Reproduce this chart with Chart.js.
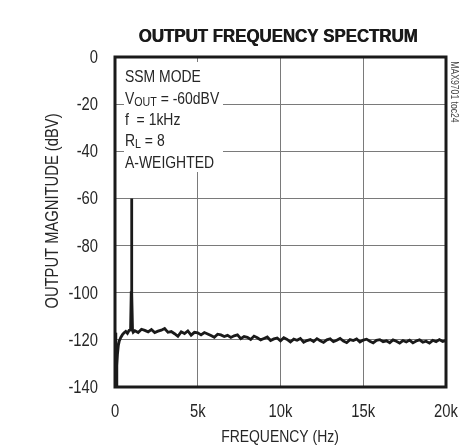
<!DOCTYPE html>
<html>
<head>
<meta charset="utf-8">
<script src="https://cdn.jsdelivr.net/npm/chart.js@4"></script>
<style>
  html, body { margin: 0; padding: 0; background: #fff; }
  canvas { display: block; }
</style>
</head>
<body>
<canvas id="spectrumChart" width="461" height="448"></canvas>
<script>
// Spectrum trace: frequency (Hz) and output level (dBV)
const freqHz = [
    0, 50, 80, 110, 150, 200, 260, 350, 450, 550, 650, 750, 850, 940, 980, 1000, 1020, 1060, 1100,
    1200, 1400, 1600, 1800, 2000, 2200, 2400, 2600, 2800, 3000,
    3200, 3400, 3600, 3800, 4000, 4200, 4400, 4600, 4800, 5000,
    5200, 5400, 5600, 5800, 6000, 6200, 6400, 6600, 6800, 7000,
    7200, 7400, 7600, 7800, 8000, 8200, 8400, 8600, 8800, 9000,
    9200, 9400, 9600, 9800, 10000, 10200, 10400, 10600, 10800, 11000,
    11200, 11400, 11600, 11800, 12000, 12200, 12400, 12600, 12800, 13000,
    13200, 13400, 13600, 13800, 14000, 14200, 14400, 14600, 14800, 15000,
    15200, 15400, 15600, 15800, 16000, 16200, 16400, 16600, 16800, 17000,
    17200, 17400, 17600, 17800, 18000, 18200, 18400, 18600, 18800, 19000,
    19200, 19400, 19600, 19800, 20000
];
const levelDbv = [
    -117.0, -119.0, -139.0, -131.0, -126.0, -122.5, -120.5, -119.0, -117.8, -117.0, -116.4, -117.2, -116.0, -115.8, -100.0, -60.0, -100.0, -116.0, -116.8,
    -116.1, -116.9, -115.5, -116.0, -116.6, -115.6, -116.9, -116.3, -115.9, -115.2,
    -116.8, -116.5, -117.4, -118.5, -116.6, -117.3, -116.2, -118.0, -116.8, -117.0,
    -117.9, -116.9, -117.5, -118.2, -118.9, -117.6, -117.9, -118.6, -118.1, -119.0,
    -118.3, -117.9, -119.5, -118.6, -118.9, -119.8, -118.4, -119.1, -120.0, -119.4,
    -118.8, -120.3, -119.6, -119.2, -120.4, -119.1, -119.8, -120.9, -119.7, -120.2,
    -119.4, -121.0, -120.3, -119.9, -120.7, -119.5, -120.4, -121.1, -120.0, -119.6,
    -120.8, -120.2, -119.4, -120.5, -121.2, -119.9, -120.3, -119.6, -120.9, -120.1,
    -119.7, -120.6, -121.3, -120.2, -119.9, -120.8, -120.4, -121.2, -120.0, -120.6,
    -121.4, -120.3, -120.9, -120.1, -121.3, -120.5, -120.0, -121.0, -120.6, -121.4,
    -120.2, -120.8, -119.9, -120.7, -120.3
];

// Axis ticks
const xTicks = [0, 5000, 10000, 15000, 20000];
const yTicks = [0, -20, -40, -60, -80, -100, -120, -140];

// Test conditions printed in the upper left corner
const conditionLines = [
    [['SSM MODE', false]],
    [['V', false], ['OUT', true], [' = -60dBV', false]],
    [['f  = 1kHz', false]],
    [['R', false], ['L', true], [' = 8', false]],
    [['A-WEIGHTED', false]]
];

const FONT = "'Liberation Sans', Arial, sans-serif";
const NARROW = 0.82;          // horizontal squeeze for the condensed face
const gridColor = '#7a7a7a';
const inkColor = '#1a1a1a';
const textColor = '#262626';

// Draws condensed text; returns the advance width
function narrowText(ctx, txt, x, y, size, opts = {}) {
    ctx.save();
    ctx.font = (opts.bold ? 'bold ' : '') + size + 'px ' + FONT;
    ctx.textAlign = opts.align || 'left';
    ctx.textBaseline = opts.baseline || 'alphabetic';
    ctx.translate(x, y);
    if (opts.rotate) ctx.rotate(opts.rotate);
    const sx = opts.sx || NARROW;
    ctx.scale(sx, 1);
    ctx.fillText(txt, 0, 0);
    const w = ctx.measureText(txt).width * sx;
    ctx.restore();
    return w;
}

// White panel behind the condition text, drawn over the grid
const textPanel = {
    id: 'textPanel',
    beforeDatasetsDraw(chart) {
        const { ctx, chartArea } = chart;
        ctx.save();
        ctx.fillStyle = '#fff';
        ctx.fillRect(chartArea.left + 9, chartArea.top + 5, 99, 110);
        ctx.restore();
    }
};

// Heavy frame round the plot
const plotFrame = {
    id: 'plotFrame',
    afterDatasetsDraw(chart) {
        const { ctx, chartArea } = chart;
        ctx.save();
        ctx.strokeStyle = inkColor;
        ctx.lineWidth = 3;
        ctx.strokeRect(chartArea.left, chartArea.top, chartArea.right - chartArea.left, chartArea.bottom - chartArea.top);
        ctx.restore();
    }
};

// Tick labels, titles, condition text and side tag
const labels = {
    id: 'labels',
    afterDraw(chart) {
        const { ctx, scales } = chart;
        ctx.save();
        ctx.fillStyle = textColor;

        // tick labels, placed by the chart's own scales
        xTicks.forEach(v => {
            const label = v === 0 ? '0' : (v / 1000) + 'k';
            narrowText(ctx, label, scales.x.getPixelForValue(v), 417, 18, { align: 'center' });
        });
        yTicks.forEach(v => {
            narrowText(ctx, String(v), 98, scales.y.getPixelForValue(v) + 6, 18, { align: 'right' });
        });

        // chart title
        ctx.fillStyle = inkColor;
        const title = 'OUTPUT FREQUENCY SPECTRUM';
        ctx.font = 'bold 18px ' + FONT;
        const sx = 279 / ctx.measureText(title).width;
        narrowText(ctx, title, 278, 42, 18, { bold: true, align: 'center', sx });
        narrowText(ctx, title, 278.6, 42, 18, { bold: true, align: 'center', sx });

        // axis titles
        ctx.fillStyle = textColor;
        narrowText(ctx, 'FREQUENCY (Hz)', 280, 442, 17, { align: 'center' });
        narrowText(ctx, 'OUTPUT MAGNITUDE (dBV)', 58, 211, 18, { align: 'center', rotate: -Math.PI / 2 });

        // condition text
        const baselines = [82, 104, 125, 146, 168];
        conditionLines.forEach((line, i) => {
            let x = 125;
            line.forEach(([txt, sub]) => {
                x += narrowText(ctx, txt, x, baselines[i] + (sub ? 2 : 0), sub ? 13 : 17);
            });
        });

        // side tag, reading downwards
        ctx.fillStyle = '#444';
        narrowText(ctx, 'MAX9701 toc24', 451, 92, 10.5, { align: 'center', rotate: Math.PI / 2 });

        ctx.restore();
    }
};

new Chart(document.getElementById('spectrumChart'), {
    type: 'line',
    data: {
        datasets: [{
            data: freqHz.map((f, i) => ({ x: f, y: levelDbv[i] })),
            borderColor: inkColor,
            borderWidth: 2.8,
            pointRadius: 0,
            tension: 0
        }]
    },
    options: {
        responsive: false,
        animation: false,
        events: [],
        layout: { padding: { top: 57, right: 15, left: 0, bottom: 0 } },
        plugins: {
            legend: { display: false },
            tooltip: { enabled: false }
        },
        scales: {
            x: {
                type: 'linear',
                min: 0,
                max: 20000,
                afterBuildTicks: scale => { scale.ticks = xTicks.map(v => ({ value: v })); },
                afterFit: scale => { scale.height = 61; },
                ticks: { display: false },
                grid: { color: gridColor, lineWidth: 1, drawTicks: false },
                border: { display: false }
            },
            y: {
                type: 'linear',
                min: -140,
                max: 0,
                afterBuildTicks: scale => { scale.ticks = yTicks.map(v => ({ value: v })); },
                afterFit: scale => { scale.width = 115; },
                ticks: { display: false },
                grid: { color: gridColor, lineWidth: 1, drawTicks: false },
                border: { display: false }
            }
        }
    },
    plugins: [textPanel, plotFrame, labels]
});
</script>
</body>
</html>
